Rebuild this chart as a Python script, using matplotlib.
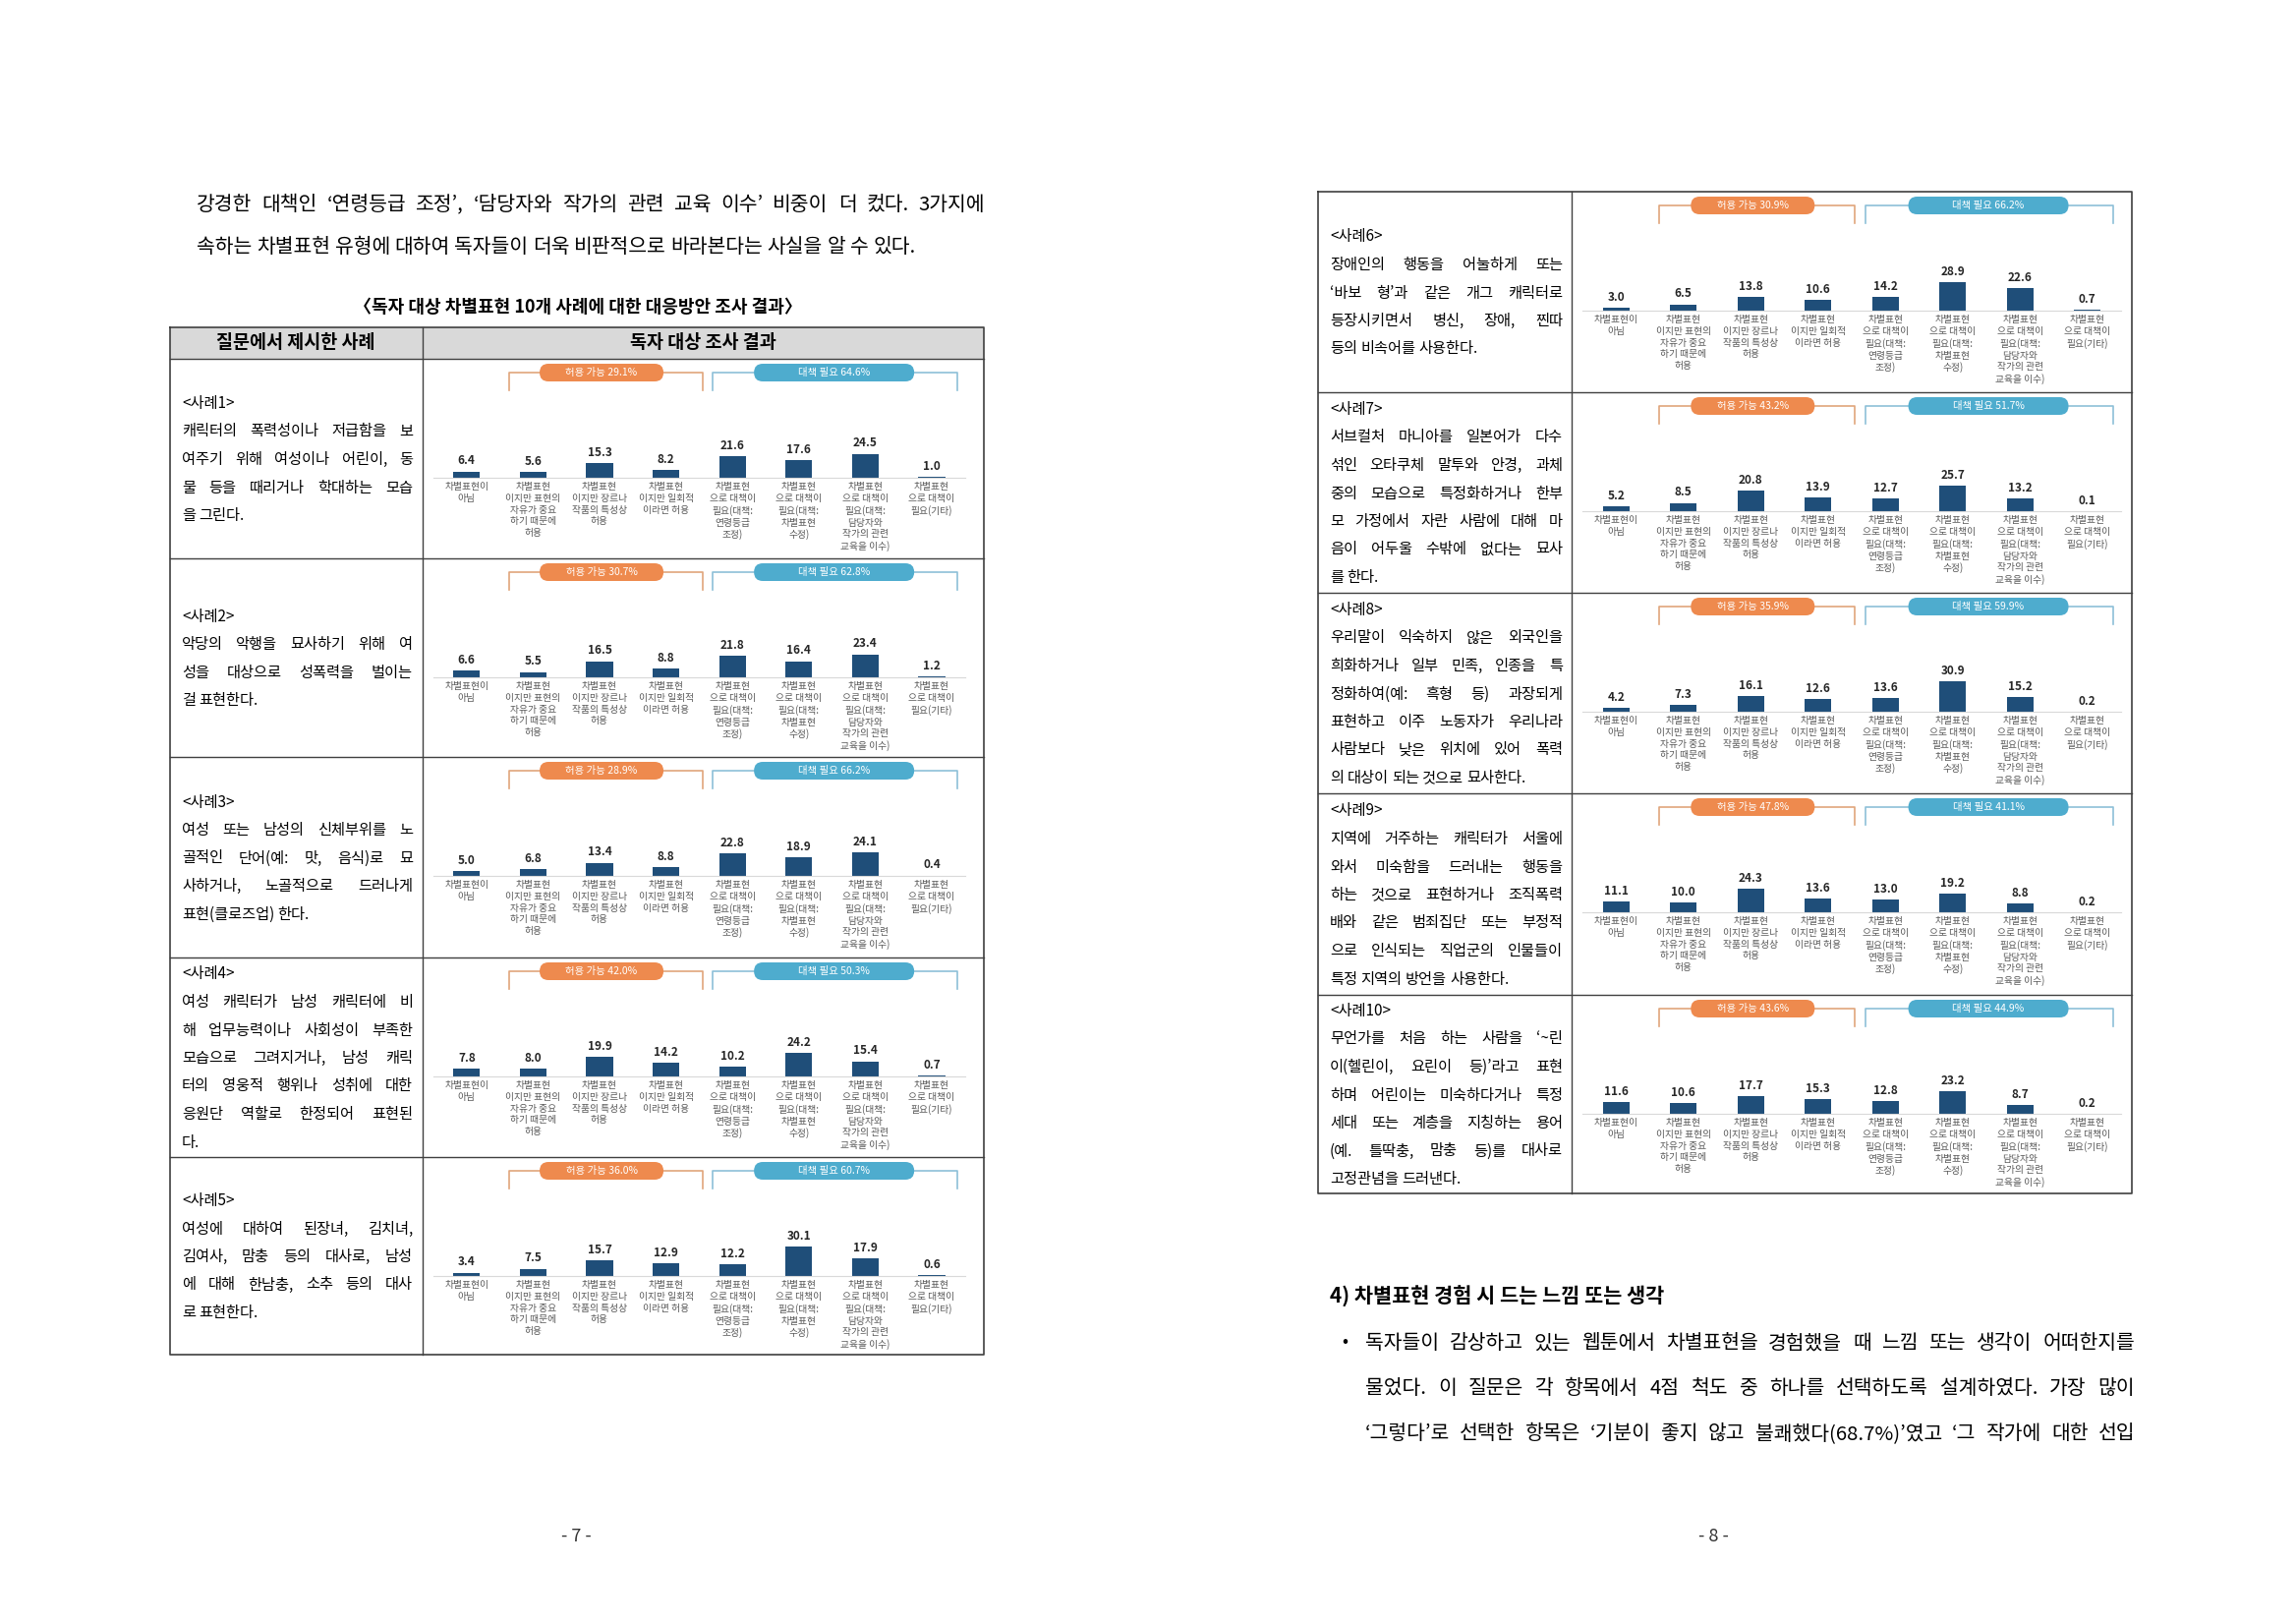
import matplotlib.pyplot as plt
from matplotlib.patches import FancyBboxPatch, Rectangle

plt.rcParams['font.family'] = ['Noto Sans CJK KR', 'DejaVu Sans']

# ---- data ----
categories = [
    "차별표현이\n아님",
    "차별표현\n이지만 표현의\n자유가 중요\n하기 때문에\n허용",
    "차별표현\n이지만 장르나\n작품의 특성상\n허용",
    "차별표현\n이지만 일회적\n이라면 허용",
    "차별표현\n으로 대책이\n필요(대책:\n연령등급\n조정)",
    "차별표현\n으로 대책이\n필요(대책:\n차별표현\n수정)",
    "차별표현\n으로 대책이\n필요(대책:\n담당자와\n작가의 관련\n교육을 이수)",
    "차별표현\n으로 대책이\n필요(기타)",
]

case1 = [6.4, 5.6, 15.3, 8.2, 21.6, 17.6, 24.5, 1.0]
case2 = [6.6, 5.5, 16.5, 8.8, 21.8, 16.4, 23.4, 1.2]
case3 = [5.0, 6.8, 13.4, 8.8, 22.8, 18.9, 24.1, 0.4]
case4 = [7.8, 8.0, 19.9, 14.2, 10.2, 24.2, 15.4, 0.7]
case5 = [3.4, 7.5, 15.7, 12.9, 12.2, 30.1, 17.9, 0.6]
case6 = [3.0, 6.5, 13.8, 10.6, 14.2, 28.9, 22.6, 0.7]
case7 = [5.2, 8.5, 20.8, 13.9, 12.7, 25.7, 13.2, 0.1]
case8 = [4.2, 7.3, 16.1, 12.6, 13.6, 30.9, 15.2, 0.2]
case9 = [11.1, 10.0, 24.3, 13.6, 13.0, 19.2, 8.8, 0.2]
case10 = [11.6, 10.6, 17.7, 15.3, 12.8, 23.2, 8.7, 0.2]
case_values = [case1, case2, case3, case4, case5, case6, case7, case8, case9, case10]

allow_pct = [29.1, 30.7, 28.9, 42.0, 36.0, 30.9, 43.2, 35.9, 47.8, 43.6]
need_pct = [64.6, 62.8, 66.2, 50.3, 60.7, 66.2, 51.7, 59.9, 41.1, 44.9]

case_texts = [
    ["캐릭터의 폭력성이나 저급함을 보", "여주기 위해 여성이나 어린이, 동",
     "물 등을 때리거나 학대하는 모습", "을 그린다."],
    ["악당의 악행을 묘사하기 위해 여", "성을 대상으로 성폭력을 벌이는", "걸 표현한다."],
    ["여성 또는 남성의 신체부위를 노", "골적인 단어(예: 맛, 음식)로 묘",
     "사하거나, 노골적으로 드러나게", "표현(클로즈업) 한다."],
    ["여성 캐릭터가 남성 캐릭터에 비", "해 업무능력이나 사회성이 부족한",
     "모습으로 그려지거나, 남성 캐릭", "터의 영웅적 행위나 성취에 대한",
     "응원단 역할로 한정되어 표현된", "다."],
    ["여성에 대하여 된장녀, 김치녀,", "김여사, 맘충 등의 대사로, 남성",
     "에 대해 한남충, 소추 등의 대사", "로 표현한다."],
    ["장애인의 행동을 어눌하게 또는", "‘바보 형’과 같은 개그 캐릭터로",
     "등장시키면서 병신, 장애, 찐따", "등의 비속어를 사용한다."],
    ["서브컬처 마니아를 일본어가 다수", "섞인 오타쿠체 말투와 안경, 과체",
     "중의 모습으로 특정화하거나 한부", "모 가정에서 자란 사람에 대해 마",
     "음이 어두울 수밖에 없다는 묘사", "를 한다."],
    ["우리말이 익숙하지 않은 외국인을", "희화하거나 일부 민족, 인종을 특",
     "정화하여(예: 흑형 등) 과장되게", "표현하고 이주 노동자가 우리나라",
     "사람보다 낮은 위치에 있어 폭력", "의 대상이 되는 것으로 묘사한다."],
    ["지역에 거주하는 캐릭터가 서울에", "와서 미숙함을 드러내는 행동을",
     "하는 것으로 표현하거나 조직폭력", "배와 같은 범죄집단 또는 부정적",
     "으로 인식되는 직업군의 인물들이", "특정 지역의 방언을 사용한다."],
    ["무언가를 처음 하는 사람을 ‘~린", "이(헬린이, 요린이 등)’라고 표현",
     "하며 어린이는 미숙하다거나 특정", "세대 또는 계층을 지칭하는 용어",
     "(예. 틀딱충, 맘충 등)를 대사로", "고정관념을 드러낸다."],
]

top_lines = [
    "강경한 대책인 ‘연령등급 조정’, ‘담당자와 작가의 관련 교육 이수’ 비중이 더 컸다. 3가지에",
    "속하는 차별표현 유형에 대하여 독자들이 더욱 비판적으로 바라본다는 사실을 알 수 있다.",
]
bottom_lines = [
    "독자들이 감상하고 있는 웹툰에서 차별표현을 경험했을 때 느낌 또는 생각이 어떠한지를",
    "물었다. 이 질문은 각 항목에서 4점 척도 중 하나를 선택하도록 설계하였다. 가장 많이",
    "‘그렇다’로 선택한 항목은 ‘기분이 좋지 않고 불쾌했다(68.7%)’였고 ‘그 작가에 대한 선입",
]

# ---- page setup (pixel coordinates, y down) ----
W, H = 2336, 1652
fig = plt.figure(figsize=(W / 100, H / 100), dpi=100, facecolor='white')
page = fig.add_axes([0, 0, 1, 1])
page.set_xlim(0, W)
page.set_ylim(H, 0)
page.axis('off')
renderer = fig.canvas.get_renderer()

BAR = '#1F4E79'
ORANGE = '#EE8A4E'
BLUE = '#4EACCE'
LINE = '#404040'


def text_width(s, size, weight='normal'):
    t = page.text(0, 0, s, fontsize=size, fontweight=weight)
    w = t.get_window_extent(renderer).width
    t.remove()
    return w


def put_line(s, x0, x1, yc, size, justify=True, weight='normal', color='black'):
    # word by word so the line can be stretched like the justified source
    words = s.split(' ')
    widths = [text_width(w, size, weight) for w in words]
    space = text_width('가 가', size, weight) - 2 * text_width('가', size, weight)
    gap = space
    if justify and len(words) > 1:
        gap = max((x1 - x0 - sum(widths)) / (len(words) - 1), space * 0.3)
    yb = yc + 0.36 * size * 100 / 72
    x = x0
    for w, wd in zip(words, widths):
        page.text(x, yb, w, fontsize=size, fontweight=weight, color=color,
                  ha='left', va='baseline')
        x += wd + gap


# ---- top paragraph ----
put_line(top_lines[0], 200, 1002, 207, 14.7, justify=True)
put_line(top_lines[1], 200, 1002, 250, 14.7, justify=False)

page.text(588, 313, "〈독자 대상 차별표현 10개 사례에 대한 대응방안 조사 결과〉", fontsize=13,
          fontweight='bold', ha='center', va='center')

# ---- tables ----
left_rows = [365, 568, 770, 974, 1177, 1378]
right_rows = [195, 399, 603, 807, 1012, 1214]

page.add_patch(Rectangle((173, 333), 828, 32, fc='#D9D9D9', ec='none'))
page.text(301, 349, "질문에서 제시한 사례", fontsize=13.3, fontweight='bold', ha='center', va='center')
page.text(715, 349, "독자 대상 조사 결과", fontsize=13.3, fontweight='bold', ha='center', va='center')

for (x0, x1, xd, ytop, rows) in [(173, 1001, 430, 333, left_rows), (1341, 2169, 1599, 195, right_rows)]:
    page.plot([x0, x1, x1, x0, x0], [ytop, ytop, rows[-1], rows[-1], ytop], color=LINE, lw=1.2)
    page.plot([xd, xd], [ytop, rows[-1]], color=LINE, lw=1.0)
    for y in rows[:-1]:
        if y != ytop:
            page.plot([x0, x1], [y, y], color=LINE, lw=1.0)


def draw_case(k, cell_left, text_x0, text_x1, row_top, row_bottom, step):
    vals = case_values[k]

    # case description
    lines = ["<사례%d>" % (k + 1)] + case_texts[k]
    sp = 28.5
    y = (row_top + row_bottom) / 2 - (len(lines) - 1) * sp / 2
    for j, s in enumerate(lines):
        just = 0 < j < len(lines) - 1
        put_line(s, text_x0, text_x1, y, 11, justify=just)
        y += sp

    # bar chart
    x0 = cell_left + 11
    base = row_top + 121
    ax = fig.add_axes([x0 / W, 1 - base / H, 8 * step / W, 100 / H])
    ax.patch.set_alpha(0)
    bars = ax.bar(range(len(vals)), vals, width=0.4, color=BAR)
    ax.bar_label(bars, labels=['%.1f' % v for v in vals], padding=3, fontsize=8.5,
                 fontweight='bold', color='#262626')
    ax.set_xlim(-0.5, 7.5)
    ax.set_ylim(0, 100)
    ax.set_xticks(range(len(categories)))
    ax.set_xticklabels(categories, fontsize=7, color='#595959', linespacing=1.22)
    ax.tick_params(axis='x', length=0, pad=3)
    ax.tick_params(axis='y', left=False, labelleft=False)
    for s in ['top', 'left', 'right']:
        ax.spines[s].set_visible(False)
    ax.spines['bottom'].set_color('#D9D9D9')

    # brackets and pills
    def px(x):
        return x0 + (x + 0.5) * step

    yl, yt = row_top + 14, row_top + 32
    for (a, b, c, wpill, col, lcol, label) in [
            (0.64, 3.55, 2.03, 126, ORANGE, '#E0A57C', "허용 가능 %.1f%%" % allow_pct[k]),
            (3.70, 7.38, 5.53, 163, BLUE, '#8DC0D8', "대책 필요 %.1f%%" % need_pct[k])]:
        page.plot([px(a), px(a), px(b), px(b)], [yt, yl, yl, yt], color=lcol, lw=1.2)
        cx = px(c)
        page.add_patch(FancyBboxPatch((cx - wpill / 2, yl - 9), wpill, 18,
                                      boxstyle='round,pad=0,rounding_size=9',
                                      fc=col, ec='none', zorder=3))
        page.text(cx, yl, label, fontsize=7.5, color='white', ha='center', va='center', zorder=4)


for k in range(5):
    draw_case(k, 430, 185, 420, left_rows[k], left_rows[k + 1], 67.6)
for k in range(5, 10):
    draw_case(k, 1599, 1353, 1590, right_rows[k - 5], right_rows[k - 4], 68.5)

# ---- right page bottom section ----
page.text(1353, 1319, "4) 차별표현 경험 시 드는 느낌 또는 생각", fontsize=15, fontweight='bold',
          ha='left', va='center')
page.text(1368, 1365, "•", fontsize=13, ha='center', va='center')
for j, s in enumerate(bottom_lines):
    put_line(s, 1389, 2172, 1365 + j * 46, 14.7, justify=True)

# page numbers
page.text(586, 1563, "- 7 -", fontsize=13, ha='center', va='center', color='#333333')
page.text(1743, 1563, "- 8 -", fontsize=13, ha='center', va='center', color='#333333')

fig.savefig('out.png', dpi=100, facecolor='white')
